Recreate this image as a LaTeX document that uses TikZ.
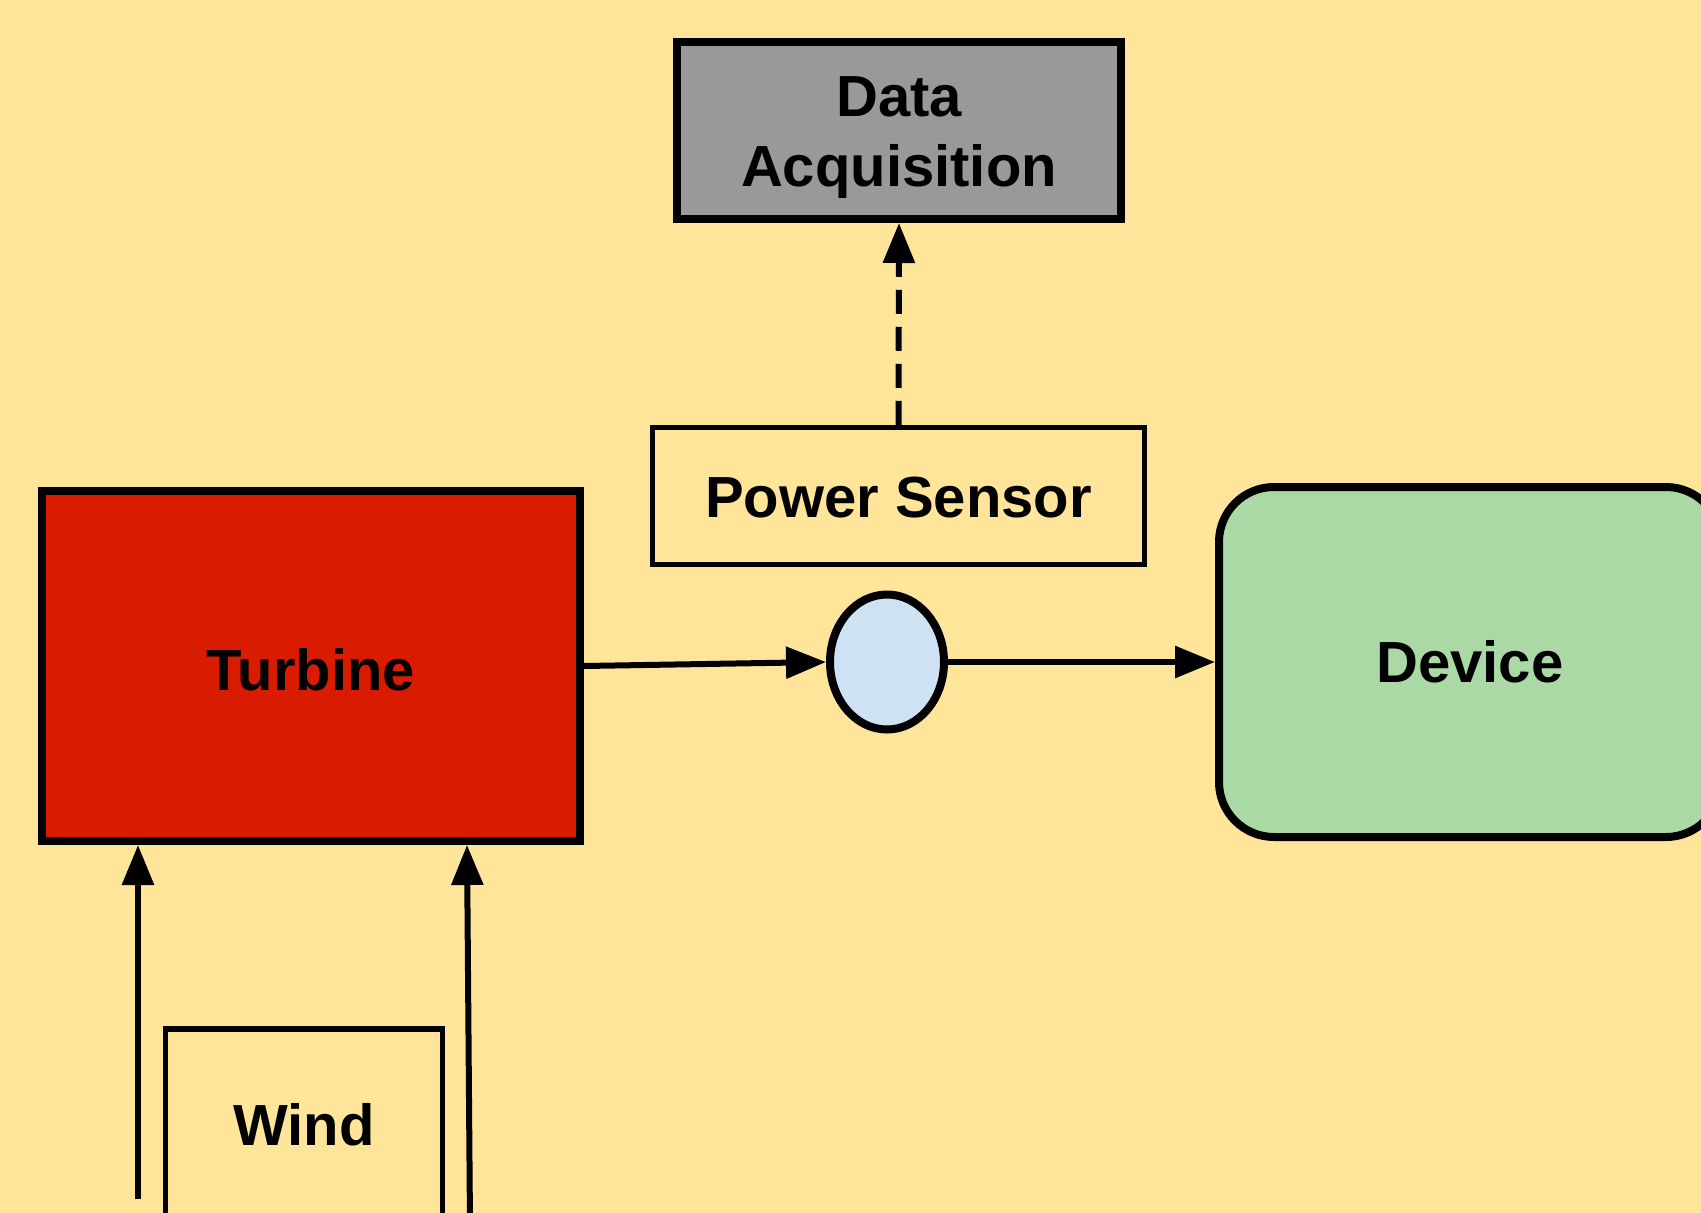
\documentclass[tikz,border=0pt]{standalone}
\usepackage{fontspec}
\setmainfont{Liberation Sans}
\usetikzlibrary{arrows.meta,shapes.geometric}
\definecolor{bgyellow}{HTML}{FFE599}
\definecolor{turbred}{HTML}{D91C00}
\definecolor{dagray}{HTML}{999999}
\definecolor{sensblue}{HTML}{CFE2F3}
\definecolor{devgreen}{HTML}{AAD9A5}
\tikzset{
  lbl/.style={font=\fontsize{58}{70}\selectfont\bfseries, align=center, inner sep=0pt},
  heavybox/.style={lbl, draw=black, line width=8pt, rectangle},
  lightbox/.style={lbl, draw=black, line width=5.5pt, rectangle},
  conn/.style={draw=black, line width=6pt, -{Triangle[length=40pt,width=31pt]}},
}
\begin{document}
\begin{tikzpicture}[x=1pt,y=-1pt]
\path[use as bounding box, fill=bgyellow] (0,0) rectangle (1701,1213);
\clip (0,0) rectangle (1701,1213);
\node[heavybox, fill=dagray, minimum width=444pt, minimum height=177pt] (da) at (899,130.5) {};
\node[lbl] (datxt) at ([yshift=-7.5pt]da.center) {Data\\Acquisition};
\node[lightbox, minimum width=492pt, minimum height=137pt] (ps) at (898.5,496) {};
\node[lbl] (pstxt) at ([yshift=-2pt]ps.center) {Power Sensor};
\node[heavybox, fill=turbred, minimum width=538pt, minimum height=350pt] (turb) at (311,666) {};
\node[lbl] (turbtxt) at ([yshift=-4pt]turb.center) {Turbine};
\node[heavybox, fill=sensblue, ellipse, minimum width=114pt, minimum height=135pt] (sens) at (887,662) {};
\node[heavybox, fill=devgreen, rounded corners=55pt, minimum width=502pt, minimum height=350pt] (dev) at (1470,662) {Device};
\node[lightbox, minimum width=277pt, minimum height=192pt] (wind) at (304,1125) {Wind};
\coordinate (w1) at (138,1199);
\coordinate (w2) at (470,1225);
\draw[conn] (turb.east) -- (sens.west);
\draw[conn] (sens.east) -- (dev.west);
\draw[conn, dash pattern=on 24pt off 13pt] (ps.north) -- (da.south);
\draw[conn] (w1) -- (w1 |- turb.south);
\draw[conn] (w2) -- (467,845);
\end{tikzpicture}
\end{document}
